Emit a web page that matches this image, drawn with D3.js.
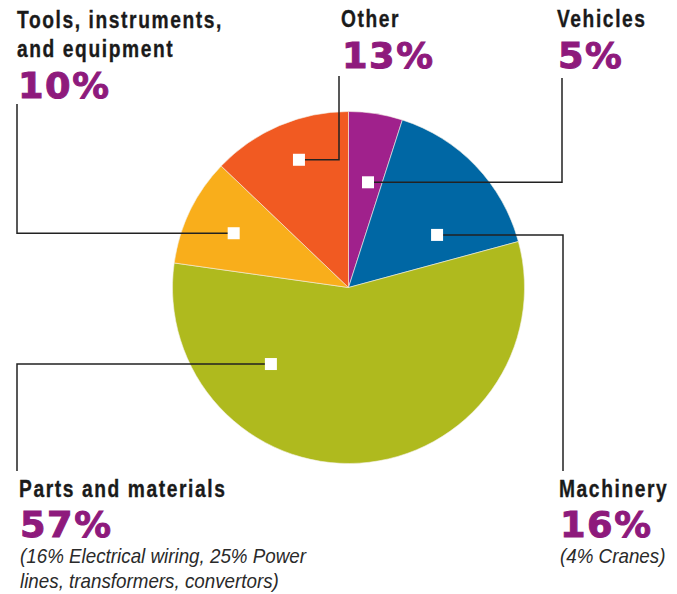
<!DOCTYPE html>
<html>
<head>
<meta charset="utf-8">
<script src="https://cdn.jsdelivr.net/npm/d3@7"></script>
<style>
  body { margin: 0; background: #fff; }
  .name { font-family: 'Liberation Sans', Arial, sans-serif; font-weight: bold; font-size: 24px; fill: #1a1a1a; stroke: #1a1a1a; stroke-width: 0.35px; letter-spacing: 2px; }
  .pct { font-family: 'DejaVu Sans', sans-serif; font-weight: bold; font-size: 36px; fill: #8e1a7c; stroke: #8e1a7c; stroke-width: 1px; letter-spacing: 1.5px; }
  .note { font-family: 'Liberation Sans', Arial, sans-serif; font-style: italic; font-size: 20px; fill: #2a2a2a; }
</style>
</head>
<body>
<div id="chart"></div>
<script>
// data, clockwise from 12 o'clock
var categories = ["Vehicles", "Machinery", "Parts and materials", "Tools, instruments, and equipment", "Other"];
var shares = [5, 16, 57, 10, 13];
var nameLines = [["Vehicles"], ["Machinery"], ["Parts and materials"], ["Tools, instruments,", "and equipment"], ["Other"]];
var notes = [[], ["(4% Cranes)"], ["(16% Electrical wiring, 25% Power", "lines, transformers, convertors)"], [], []];
var colors = ["#a0218c", "#0067a4", "#afba1e", "#f9ae1b", "#f15a22"];

var w = 677, h = 594;
var cx = 348.5, cy = 287.5, radius = 176;

// where the white marker sits inside each slice (deg from top, px from centre)
var marker = [
  {angle: 10.5, r: 107},
  {angle: 59.3, r: 103},
  {angle: 225.4, r: 109},
  {angle: 295.3, r: 127},
  {angle: 338.8, r: 137}
];
// label blocks and leader line ends
var labelPos = [
  {x: 557, y: 27, lineX: 562, lineY: 78, pctGap: 41},
  {x: 559, y: 497, lineX: 563, lineY: 471, pctGap: 40},
  {x: 19, y: 497, lineX: 17, lineY: 471, pctGap: 40},
  {x: 17, y: 28, lineX: 17, lineY: 104, pctGap: 41},
  {x: 341, y: 27, lineX: 339, lineY: 76, pctGap: 41}
];

var data = categories.map(function (c, i) {
  return {name: c, value: shares[i], lines: nameLines[i], notes: notes[i], color: colors[i]};
});

var svg = d3.select("#chart").append("svg")
  .attr("width", w)
  .attr("height", h);

var pie = d3.pie()
  .sort(null)
  .value(function (d) { return d.value; });

var arc = d3.arc().innerRadius(0).outerRadius(radius);

var g = svg.append("g").attr("transform", "translate(" + cx + "," + cy + ")");

g.selectAll("path")
  .data(pie(data))
  .enter()
  .append("path")
  .attr("d", arc)
  .attr("fill", function (d) { return d.data.color; })
  .attr("stroke", "#f4f0e6")
  .attr("stroke-width", 0.6);

function markerXY(i) {
  var a = marker[i].angle * Math.PI / 180;
  return [cx + marker[i].r * Math.sin(a), cy - marker[i].r * Math.cos(a)];
}

// leader lines
data.forEach(function (d, i) {
  var p = markerXY(i);
  var lp = labelPos[i];
  svg.append("path")
    .attr("d", "M" + p[0] + "," + p[1] + "H" + lp.lineX + "V" + lp.lineY)
    .attr("fill", "none")
    .attr("stroke", "#222")
    .attr("stroke-width", 1.5);
});

// white squares
data.forEach(function (d, i) {
  var p = markerXY(i);
  svg.append("rect")
    .attr("x", p[0] - 6)
    .attr("y", p[1] - 6)
    .attr("width", 12)
    .attr("height", 12)
    .attr("fill", "#fff");
});

// condensed text = normal text squeezed horizontally
function addText(cls, x, y, sx, t) {
  svg.append("text").attr("class", cls)
    .attr("transform", "translate(" + x + "," + y + ") scale(" + sx + ",1)")
    .text(t);
}

// labels
data.forEach(function (d, i) {
  var lp = labelPos[i];
  var y = lp.y;
  d.lines.forEach(function (t, j) {
    addText("name", lp.x, y + j * 29, 0.8, t);
  });
  var py = y + (d.lines.length - 1) * 29 + lp.pctGap;
  addText("pct", lp.x + 1, py, 1.02, d.value + "%");
  d.notes.forEach(function (t, j) {
    addText("note", lp.x + 1, py + 26 + j * 25, 0.94, t);
  });
});
</script>
</body>
</html>
